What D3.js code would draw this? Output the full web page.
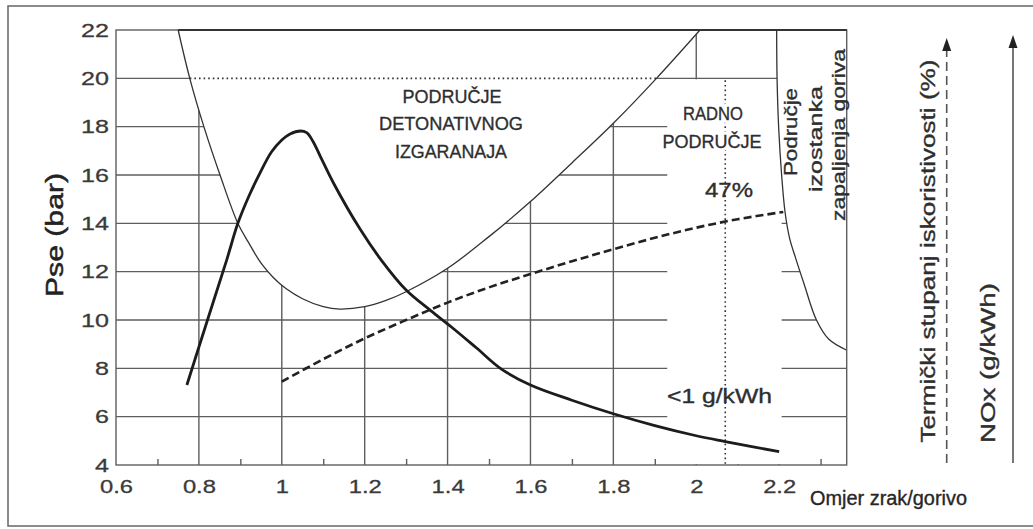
<!DOCTYPE html>
<html>
<head>
<meta charset="utf-8">
<script src="https://cdn.jsdelivr.net/npm/d3@7"></script>
<style>
  body { margin: 0; background: #fff; }
  text { font-family: "Liberation Sans", Arial, sans-serif; fill: #2e2e2e; }
</style>
</head>
<body>
<div id="chart"></div>
<script>
// tick values
const xTicks = [0.6, 0.8, 1, 1.2, 1.4, 1.6, 1.8, 2, 2.2];
const xMinor = [0.7, 0.9, 1.1, 1.3, 1.5, 1.7, 1.9, 2.1, 2.3];
const yTicks = [4, 6, 8, 10, 12, 14, 16, 18, 20, 22];

// granica detonativnog izgaranja (U krivulja) [lambda, bar]
const knockBoundary = [
    [0.75, 22], [0.778, 20], [0.812, 18], [0.851, 16], [0.894, 14],
    [0.92, 13.2], [0.95, 12.35], [0.98, 11.75], [1.01, 11.3], [1.05, 10.88],
    [1.1, 10.55], [1.14, 10.45], [1.2, 10.55], [1.25, 10.8], [1.3, 11.17],
    [1.4, 12.14], [1.5, 13.45], [1.6, 14.9], [1.7, 16.5], [1.8, 18.14],
    [1.904, 20], [2.009, 22]
];

// granica izostanka zapaljenja
const misfireBoundary = [
    [2.194, 22], [2.195, 20], [2.199, 17.9], [2.206, 16.0], [2.214, 14.5],
    [2.225, 13.4], [2.24, 12.55], [2.26, 11.5], [2.29, 10.0], [2.32, 9.2],
    [2.362, 8.76]
];

// NOx krivulja (puna linija)
const noxCurve = [
    [0.771, 7.31], [0.82, 9.96], [0.867, 12.48], [0.894, 14.0], [0.92, 15.1],
    [0.947, 16.07], [0.975, 16.95], [1.0, 17.45], [1.02, 17.7], [1.045, 17.82],
    [1.06, 17.75], [1.075, 17.4], [1.095, 16.7], [1.125, 15.66], [1.19, 13.73],
    [1.24, 12.48], [1.3, 11.24], [1.36, 10.38], [1.41, 9.7], [1.47, 8.84],
    [1.53, 7.97], [1.6, 7.31], [1.7, 6.68], [1.8, 6.12], [1.9, 5.63],
    [2.0, 5.21], [2.07, 4.97], [2.2, 4.55]
];

// termički stupanj iskoristivosti (crtkana linija)
const efficiencyCurve = [
    [1.0, 7.45], [1.1, 8.38], [1.2, 9.24], [1.3, 10.0], [1.4, 10.72],
    [1.5, 11.35], [1.6, 11.9], [1.7, 12.43], [1.8, 12.93], [1.9, 13.4],
    [2.0, 13.82], [2.1, 14.17], [2.21, 14.47]
];

const workingLambda = 2.07;
const limitPressure = 20;

const width = 1033, height = 529;
const gridColor = "#5e5e5e";

const x = d3.scaleLinear().domain([0.6, 2.363]).range([116, 846.7]);
const y = d3.scaleLinear().domain([4, 22]).range([465, 30]);

const svg = d3.select("#chart").append("svg")
    .attr("width", width)
    .attr("height", height);

// okvir slike
svg.append("rect")
    .attr("x", 8).attr("y", 6)
    .attr("width", 1040).attr("height", 520)
    .attr("fill", "none")
    .attr("stroke", "#666")
    .attr("stroke-width", 1.5);

// mreža
svg.append("g").selectAll("line")
    .data(yTicks.slice(1, -1))
    .join("line")
    .attr("x1", x(0.6)).attr("x2", x.range()[1])
    .attr("y1", d => y(d)).attr("y2", d => y(d))
    .attr("stroke", gridColor).attr("stroke-width", 1.4);

svg.append("g").selectAll("line")
    .data(xTicks.slice(1))
    .join("line")
    .attr("x1", d => x(d)).attr("x2", d => x(d))
    .attr("y1", y(22)).attr("y2", y(4))
    .attr("stroke", gridColor).attr("stroke-width", 1.4);

// male oznake na osi x
svg.append("g")
    .attr("transform", `translate(0,${y(4)})`)
    .call(d3.axisBottom(x).tickValues(xMinor).tickSize(-6).tickFormat(""))
    .call(g => g.select(".domain").remove())
    .selectAll("line")
    .attr("stroke", gridColor).attr("stroke-width", 1.4);

const line = d3.line()
    .x(d => x(d[0]))
    .y(d => y(d[1]))
    .curve(d3.curveCatmullRom);

// bijela područja bez mreže
svg.append("rect")
    .attr("x", x(1.93)).attr("y", y(limitPressure) + 1)
    .attr("width", x(2.206) - x(1.93))
    .attr("height", y(4) - y(limitPressure) - 1.8)
    .attr("fill", "#fff");

svg.append("path")
    .attr("d", line(knockBoundary) + "Z")
    .attr("fill", "#fff");

svg.append("path")
    .attr("d", line(misfireBoundary) + `L${x.range()[1]},${y(22)}Z`)
    .attr("fill", "#fff");

// okvir dijagrama
svg.append("rect")
    .attr("x", x(0.6)).attr("y", y(22))
    .attr("width", x.range()[1] - x(0.6))
    .attr("height", y(4) - y(22))
    .attr("fill", "none")
    .attr("stroke", gridColor).attr("stroke-width", 1.4);

svg.append("line")
    .attr("x1", x(knockBoundary[0][0])).attr("x2", x.range()[1])
    .attr("y1", y(22)).attr("y2", y(22))
    .attr("stroke", "#333").attr("stroke-width", 2);

// točkaste linije
let crossings = knockBoundary.filter(p => p[1] === limitPressure).map(p => p[0]);
svg.append("line")
    .attr("x1", x(crossings[0])).attr("x2", x(crossings[1]))
    .attr("y1", y(limitPressure)).attr("y2", y(limitPressure))
    .attr("stroke", "#333").attr("stroke-width", 1.6)
    .attr("stroke-dasharray", "1.6,3");

svg.append("line")
    .attr("x1", x(workingLambda)).attr("x2", x(workingLambda))
    .attr("y1", y(limitPressure) + 2).attr("y2", y(4))
    .attr("stroke", "#333").attr("stroke-width", 1.6)
    .attr("stroke-dasharray", "1.6,3");

// granice područja
[knockBoundary, misfireBoundary].forEach(data => {
    svg.append("path")
        .attr("d", line(data))
        .attr("fill", "none")
        .attr("stroke", "#333")
        .attr("stroke-width", 1.3);
});

// krivulje
svg.append("path")
    .attr("d", line(efficiencyCurve))
    .attr("fill", "none")
    .attr("stroke", "#222")
    .attr("stroke-width", 2.6)
    .attr("stroke-dasharray", "8,4");

svg.append("path")
    .attr("d", line(noxCurve))
    .attr("fill", "none")
    .attr("stroke", "#1c1c1c")
    .attr("stroke-width", 2.8);

// oznake osi
function stretchTexts(sel, factor) {
    sel.each(function () {
        let len = this.getComputedTextLength();
        d3.select(this).attr("textLength", len * factor).attr("lengthAdjust", "spacingAndGlyphs");
    });
}

const yAxis = svg.append("g")
    .attr("transform", `translate(${x(0.6)},0)`)
    .call(d3.axisLeft(y).tickValues(yTicks).tickSize(0).tickPadding(7))
    .call(g => g.select(".domain").remove())
    .attr("font-family", null)
    .attr("font-size", 19);
yAxis.selectAll("text").style("fill", "#3a3a3a").attr("stroke", "#3a3a3a").attr("stroke-width", 0.3);
stretchTexts(yAxis.selectAll("text"), 1.32);

const xAxis = svg.append("g")
    .attr("transform", `translate(0,${y(4)})`)
    .call(d3.axisBottom(x).tickValues(xTicks).tickSize(0).tickPadding(15).tickFormat(d3.format("~g")))
    .call(g => g.select(".domain").remove())
    .attr("font-family", null)
    .attr("font-size", 19);
xAxis.selectAll("text").style("fill", "#3a3a3a").attr("stroke", "#3a3a3a").attr("stroke-width", 0.3);
stretchTexts(xAxis.selectAll("text"), 1.25);

// tekstovi
function addText(str, tx, ty, size, len, opts = {}) {
    let t = svg.append("text")
        .attr("x", tx).attr("y", ty)
        .attr("font-size", size)
        .attr("text-anchor", opts.anchor || "middle")
        .attr("textLength", len)
        .attr("lengthAdjust", "spacingAndGlyphs")
        .attr("stroke", opts.fill || "#2e2e2e")
        .attr("stroke-width", opts.weight || 0.35)
        .text(str);
    if (opts.rotate) {
        t.attr("transform", `rotate(-90,${tx},${ty})`).attr("dy", "0.35em");
    }
    if (opts.fill) t.style("fill", opts.fill);
    return t;
}

// bijela podloga ispod teksta radnog područja
function addHalo(str, tx, ty, size, len) {
    svg.append("text")
        .attr("x", tx).attr("y", ty)
        .attr("font-size", size)
        .attr("text-anchor", "middle")
        .attr("textLength", len)
        .attr("lengthAdjust", "spacingAndGlyphs")
        .attr("stroke", "#fff").attr("stroke-width", 7)
        .style("fill", "#fff")
        .text(str);
}

addText("PODRUČJE", 452, 103, 19, 99);
addText("DETONATIVNOG", 451, 130, 19, 144);
addText("IZGARANAJA", 451, 158, 19, 112);

addHalo("RADNO", 713, 120, 19, 60);
addHalo("PODRUČJE", 712, 148, 19, 99);
addText("RADNO", 713, 120, 19, 60);
addText("PODRUČJE", 712, 148, 19, 99);

addText("47%", 729, 197, 20, 48);
addText("<1 g/kWh", 667, 403, 20, 105, { anchor: "start" });
addText("Omjer zrak/gorivo", 810, 505, 20, 157, { anchor: "start", fill: "#262626" });

addText("Područje", 790, 132, 19, 88, { rotate: true });
addText("izostanka", 815, 139, 19, 106, { rotate: true });
addText("zapaljenja goriva", 838, 135, 19, 172, { rotate: true });

addText("Pse (bar)", 55, 235, 23, 124, { rotate: true, fill: "#222", weight: 0.5 });

addText("Termički stupanj iskoristivosti (%)", 928, 251, 20, 383, { rotate: true });
addText("NOx (g/kWh)", 988, 363, 20, 160, { rotate: true });

// strelice desno
const arrows = [
    { cx: 946.7, tip: 38, dash: "9,5" },
    { cx: 1013, tip: 35, dash: null }
];
arrows.forEach(a => {
    svg.append("line")
        .attr("x1", a.cx).attr("x2", a.cx)
        .attr("y1", 463).attr("y2", a.tip + 10)
        .attr("stroke", "#555").attr("stroke-width", 1.6)
        .attr("stroke-dasharray", a.dash);
    svg.append("path")
        .attr("d", `M${a.cx},${a.tip}L${a.cx - 4.5},${a.tip + 13}L${a.cx + 4.5},${a.tip + 13}Z`)
        .attr("fill", "#222");
});
</script>
</body>
</html>
